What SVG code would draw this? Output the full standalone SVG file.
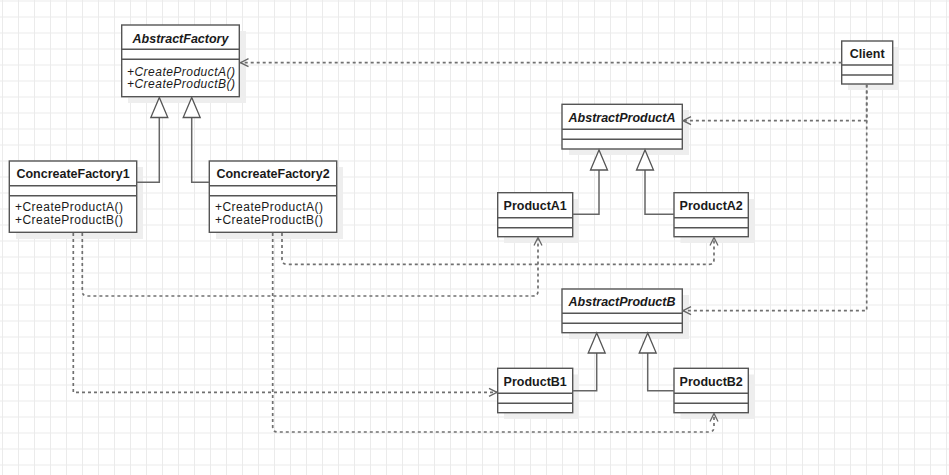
<svg xmlns="http://www.w3.org/2000/svg" width="949" height="475" viewBox="0 0 949 475">
<defs>
<pattern id="grid" patternUnits="userSpaceOnUse" x="2" y="0.5" width="16" height="16">
<path d="M0 0.5 H16 M0.5 0 V16" stroke="#ebebeb" stroke-width="1" fill="none"/>
</pattern>
<marker id="open" viewBox="0 0 10 10" refX="9" refY="5" markerWidth="10" markerHeight="10" markerUnits="userSpaceOnUse" orient="auto">
<path d="M1 1 L9 5 L1 9" fill="none" stroke="#666" stroke-width="1.3"/>
</marker>
</defs>
<style>
.box{fill:#fff;stroke:#555;stroke-width:1.4}
.sh{fill:#eeeeee}
.sep{stroke:#555;stroke-width:1.4}
.t{font-family:"Liberation Sans",Arial,sans-serif;fill:#1a1a1a}
.title{font-size:12.5px;font-weight:bold;text-anchor:middle}
.abs{font-style:italic}
.m{font-size:12px}
.dash{fill:none;stroke:#707070;stroke-width:1.7;stroke-dasharray:3 3}
.gen{fill:none;stroke:#666;stroke-width:1.5}
.tri{fill:#fff;stroke:#555;stroke-width:1.3}
</style>
<rect width="949" height="475" fill="#fff"/>
<rect width="949" height="475" fill="url(#grid)"/>

<g id="AbstractFactory">
<rect class="sh" x="128" y="31" width="118" height="72"/>
<rect class="box" x="121.7" y="25" width="117.6" height="71.7"/>
<line class="sep" x1="121.7" y1="49.3" x2="239.3" y2="49.3"/>
<line class="sep" x1="121.7" y1="59.3" x2="239.3" y2="59.3"/>
<text class="t title abs" x="180.5" y="42.5">AbstractFactory</text>
<text class="t m abs" x="127" y="75.5" textLength="108" lengthAdjust="spacing">+CreateProductA()</text>
<text class="t m abs" x="127" y="88" textLength="108" lengthAdjust="spacing">+CreateProductB()</text>
</g>

<g id="ConcreateFactory1">
<rect class="sh" x="16" y="167" width="127" height="72"/>
<rect class="box" x="9.3" y="161" width="127.4" height="71.3"/>
<line class="sep" x1="9.3" y1="185.7" x2="136.7" y2="185.7"/>
<line class="sep" x1="9.3" y1="195.7" x2="136.7" y2="195.7"/>
<text class="t title" x="73" y="177.5">ConcreateFactory1</text>
<text class="t m" x="15" y="211" textLength="108" lengthAdjust="spacing">+CreateProductA()</text>
<text class="t m" x="15" y="223.5" textLength="108" lengthAdjust="spacing">+CreateProductB()</text>
</g>

<g id="ConcreateFactory2">
<rect class="sh" x="216" y="167" width="127" height="72"/>
<rect class="box" x="209.3" y="161" width="127.4" height="71.3"/>
<line class="sep" x1="209.3" y1="185.7" x2="336.7" y2="185.7"/>
<line class="sep" x1="209.3" y1="195.7" x2="336.7" y2="195.7"/>
<text class="t title" x="273" y="177.5">ConcreateFactory2</text>
<text class="t m" x="215" y="211" textLength="108" lengthAdjust="spacing">+CreateProductA()</text>
<text class="t m" x="215" y="223.5" textLength="108" lengthAdjust="spacing">+CreateProductB()</text>
</g>

<g id="Client">
<rect class="sh" x="848" y="47" width="51" height="43"/>
<rect class="box" x="841.7" y="41" width="51" height="43"/>
<line class="sep" x1="841.7" y1="65" x2="892.7" y2="65"/>
<line class="sep" x1="841.7" y1="75" x2="892.7" y2="75"/>
<text class="t title" x="867.2" y="57.5">Client</text>
</g>

<g id="AbstractProductA">
<rect class="sh" x="569" y="110" width="120" height="45"/>
<rect class="box" x="562" y="104.3" width="120.3" height="44.7"/>
<line class="sep" x1="562" y1="129.3" x2="682.3" y2="129.3"/>
<line class="sep" x1="562" y1="139.3" x2="682.3" y2="139.3"/>
<text class="t title abs" x="622" y="121.5">AbstractProductA</text>
</g>

<g id="ProductA1">
<rect class="sh" x="504" y="199" width="75" height="44"/>
<rect class="box" x="497.7" y="192.7" width="75" height="44"/>
<line class="sep" x1="497.7" y1="217.7" x2="572.7" y2="217.7"/>
<line class="sep" x1="497.7" y1="227.7" x2="572.7" y2="227.7"/>
<text class="t title" x="535.2" y="209.5">ProductA1</text>
</g>

<g id="ProductA2">
<rect class="sh" x="680.5" y="199" width="74.3" height="44"/>
<rect class="box" x="674" y="192.7" width="74.3" height="44"/>
<line class="sep" x1="674" y1="217.7" x2="748.3" y2="217.7"/>
<line class="sep" x1="674" y1="227.7" x2="748.3" y2="227.7"/>
<text class="t title" x="711.2" y="209.5">ProductA2</text>
</g>

<g id="AbstractProductB">
<rect class="sh" x="569" y="295" width="120" height="44"/>
<rect class="box" x="562" y="289" width="120.3" height="43.7"/>
<line class="sep" x1="562" y1="313.3" x2="682.3" y2="313.3"/>
<line class="sep" x1="562" y1="323.3" x2="682.3" y2="323.3"/>
<text class="t title abs" x="622" y="305.5">AbstractProductB</text>
</g>

<g id="ProductB1">
<rect class="sh" x="504" y="374.5" width="75" height="44.4"/>
<rect class="box" x="497.7" y="368.3" width="75" height="44.4"/>
<line class="sep" x1="497.7" y1="393.3" x2="572.7" y2="393.3"/>
<line class="sep" x1="497.7" y1="403.3" x2="572.7" y2="403.3"/>
<text class="t title" x="535.2" y="385.5">ProductB1</text>
</g>

<g id="ProductB2">
<rect class="sh" x="680.5" y="374.5" width="74.3" height="44.4"/>
<rect class="box" x="674" y="368.3" width="74.3" height="44.4"/>
<line class="sep" x1="674" y1="393.3" x2="748.3" y2="393.3"/>
<line class="sep" x1="674" y1="403.3" x2="748.3" y2="403.3"/>
<text class="t title" x="711.2" y="385.5">ProductB2</text>
</g>

<g id="connectors">
<!-- generalizations -->
<path class="gen" d="M136.7 182.3 H159.3 V117.5"/>
<path class="tri" d="M159.3 97.5 L150.8 117.5 H167.8 Z"/>
<path class="gen" d="M209.3 182.3 H191.7 V117.5"/>
<path class="tri" d="M191.7 97.5 L183.2 117.5 H200.2 Z"/>
<path class="gen" d="M572.7 214.3 H599 V170"/>
<path class="tri" d="M599 150 L590.5 170 H607.5 Z"/>
<path class="gen" d="M674 214.3 H645 V170"/>
<path class="tri" d="M645 150 L636.5 170 H653.5 Z"/>
<path class="gen" d="M572.7 390.7 H596.7 V353"/>
<path class="tri" d="M596.7 333 L588.2 353 H605.2 Z"/>
<path class="gen" d="M674 390.7 H647.7 V353"/>
<path class="tri" d="M647.7 333 L639.2 353 H656.2 Z"/>
<!-- dependencies -->
<path class="dash" d="M841.7 62.7 H240.5" marker-end="url(#open)"/>
<path class="dash" d="M866.7 84.5 V120.7 H683" marker-end="url(#open)"/>
<path class="dash" d="M866.7 84.5 V310.7 H683" marker-end="url(#open)"/>
<path class="dash" d="M73.3 233 V392.3 H497" marker-end="url(#open)"/>
<path class="dash" d="M82.3 233 V291 Q82.3 296 87.3 296 H533 Q538 296 538 291 V237.5" marker-end="url(#open)"/>
<path class="dash" d="M272.7 233 V427 Q272.7 432 277.7 432 H709 Q714 432 714 427 V413.5" marker-end="url(#open)"/>
<path class="dash" d="M282 233 V259.3 Q282 264.3 287 264.3 H709 Q714 264.3 714 259.3 V237.5" marker-end="url(#open)"/>
</g>
</svg>
